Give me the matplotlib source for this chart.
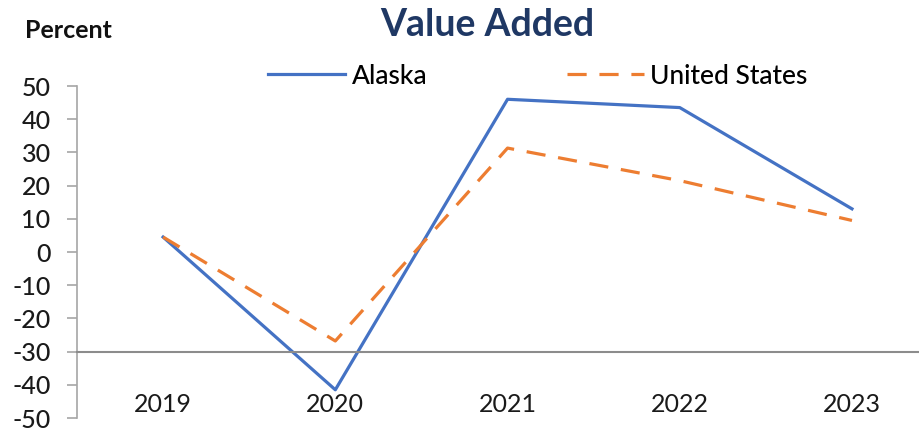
import matplotlib.pyplot as plt
import numpy as np

# Value added, percent change
years = ['2019', '2020', '2021', '2022', '2023']
alaska = [4.5, -41.5, 46.0, 43.5, 13.0]
united_states = [4.5, -26.8, 31.3, 21.5, 9.5]
y_ticks = list(range(-50, 51, 10))

plt.rcParams['font.family'] = ['Lato', 'DejaVu Sans']

fig = plt.figure(figsize=(9.2, 4.32), dpi=100)
ax = fig.add_axes([77 / 920, 14 / 432, 1 - 77 / 920, 332 / 432])

x = np.arange(len(years))
ax.plot(x, alaska, color='#4472C4', linewidth=2.3, label='Alaska')
ax.plot(x, united_states, color='#ED7D31', linewidth=2.3,
        dashes=(6, 4), label='United States')

ax.set_ylim(-50, 50)
ax.set_xlim(-0.5, 4.395)
ax.set_yticks(y_ticks)
ax.set_yticklabels([str(v) for v in y_ticks], fontweight='medium')
ax.set_xticks(x)
ax.set_xticklabels(years, fontweight='medium')

for s in ['top', 'right']:
    ax.spines[s].set_visible(False)
ax.spines['left'].set_color('#A6A6A6')
ax.spines['left'].set_linewidth(1.2)
ax.spines['bottom'].set_position(('data', -30))
ax.spines['bottom'].set_color('#8C8C8C')
ax.spines['bottom'].set_linewidth(1.5)

ax.tick_params(axis='y', length=7, width=1.2, color='#A6A6A6', pad=12,
               labelsize=18, labelcolor='#1a1a1a')
ax.tick_params(axis='x', length=0, pad=30, labelsize=18, labelcolor='#1a1a1a')

fig.text(487 / 920, 1 - 25 / 432, 'Value Added', ha='center', va='center',
         fontsize=27, fontweight='bold', color='#1F3864')
fig.text(25 / 920, 1 - 31 / 432, 'Percent', ha='left', va='center',
         fontsize=18, fontweight='bold', color='#111111')

leg = fig.legend(loc='center', bbox_to_anchor=(538 / 920, 1 - 76 / 432), ncol=2,
                 frameon=False, fontsize=19, handlelength=2.9, columnspacing=5.3,
                 handletextpad=0.25)
for t in leg.get_texts():
    t.set_fontweight('medium')

fig.savefig('out.png', dpi=100)
